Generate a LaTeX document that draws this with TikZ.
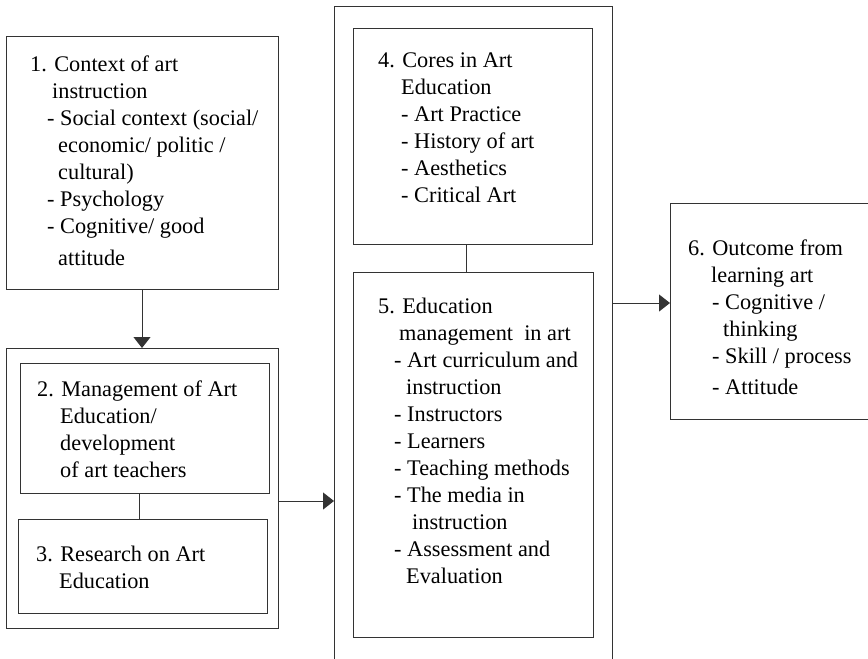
\documentclass[tikz,border=0pt]{standalone}
\usepackage{fontspec}
\setmainfont{Liberation Serif}
\usetikzlibrary{arrows.meta,calc}
\begin{document}
\begin{tikzpicture}[x=1pt,y=-1pt,
  box/.style={draw=black!80,line width=1pt,anchor=north west,inner sep=0pt,outer sep=0pt},
  txt/.style={anchor=north west,inner sep=0pt,align=left,font=\fontsize{22.3}{27}\selectfont,text=black},
  arr/.style={draw=black!80,line width=1pt,-{Triangle[length=11pt,width=17pt]}},
  link/.style={draw=black!80,line width=1pt}]
\useasboundingbox (0,0) rectangle (868,659);
\clip (0,0) rectangle (868,659);
% boxes
\node[box,minimum width=272pt,minimum height=253pt] (b1) at (6,36) {};
\node[box,minimum width=272pt,minimum height=280pt] (outer23) at (6,348) {};
\node[box,minimum width=249pt,minimum height=130pt] (b2) at (20,363) {};
\node[box,minimum width=249pt,minimum height=94pt] (b3) at (18,519) {};
\node[box,minimum width=278pt,minimum height=670pt] (tall) at (334,6) {};
\node[box,minimum width=239pt,minimum height=216pt] (b4) at (353,28) {};
\node[box,minimum width=240pt,minimum height=365pt] (b5) at (353,272) {};
\node[box,minimum width=215pt,minimum height=216pt] (b6) at (670,203) {};
% texts
\node[txt] (t1) at (30,54) {\rule{0pt}{17pt}1. Context of art\\
\hspace*{22pt}instruction\\
\hspace*{17pt}- Social context (social/\\
\hspace*{28pt}economic/ politic /\\
\hspace*{28pt}cultural)\\
\hspace*{17pt}- Psychology\\
\hspace*{17pt}- Cognitive/ good\\[5pt]
\hspace*{28pt}attitude};
\node[txt] (t2) at (37,379) {\rule{0pt}{17pt}2. Management of Art\\
\hspace*{23pt}Education/\\
\hspace*{23pt}development\\
\hspace*{23pt}of art teachers};
\node[txt] (t3) at (36,544) {\rule{0pt}{17pt}3. Research on Art\\
\hspace*{23pt}Education};
\node[txt] (t4) at (378,50) {\rule{0pt}{17pt}4. Cores in Art\\
\hspace*{23pt}Education\\
\hspace*{23pt}- Art Practice\\
\hspace*{23pt}- History of art\\
\hspace*{23pt}- Aesthetics\\
\hspace*{23pt}- Critical Art};
\node[txt] (t5) at (378,296) {\rule{0pt}{17pt}5. Education\\
\hspace*{21pt}management\ \ in art\\
\hspace*{16pt}- Art curriculum and\\
\hspace*{28pt}instruction\\
\hspace*{16pt}- Instructors\\
\hspace*{16pt}- Learners\\
\hspace*{16pt}- Teaching methods\\
\hspace*{16pt}- The media in\\
\hspace*{34pt}instruction\\
\hspace*{16pt}- Assessment and\\
\hspace*{28pt}Evaluation};
\node[txt] (t6) at (688,238) {\rule{0pt}{17pt}6. Outcome from\\
\hspace*{23pt}learning art\\
\hspace*{24pt}- Cognitive /\\
\hspace*{35pt}thinking\\
\hspace*{24pt}- Skill / process\\[4pt]
\hspace*{24pt}- Attitude};
% connectors
\draw[arr] (b1.south) -- (outer23.north);
\draw[link] ([xshift=-5.5pt]b2.south) -- ([xshift=-5.5pt]b2.south |- b3.north);
\draw[arr] ([yshift=-13pt]outer23.east) -- ([yshift=-13pt]outer23.east -| tall.west);
\draw[link] ([xshift=-6.5pt]b4.south) -- ([xshift=-6.5pt]b4.south |- b5.north);
\draw[arr] ([yshift=8pt]b6.west -| tall.east) -- ([yshift=8pt]b6.west);
\end{tikzpicture}
\end{document}
